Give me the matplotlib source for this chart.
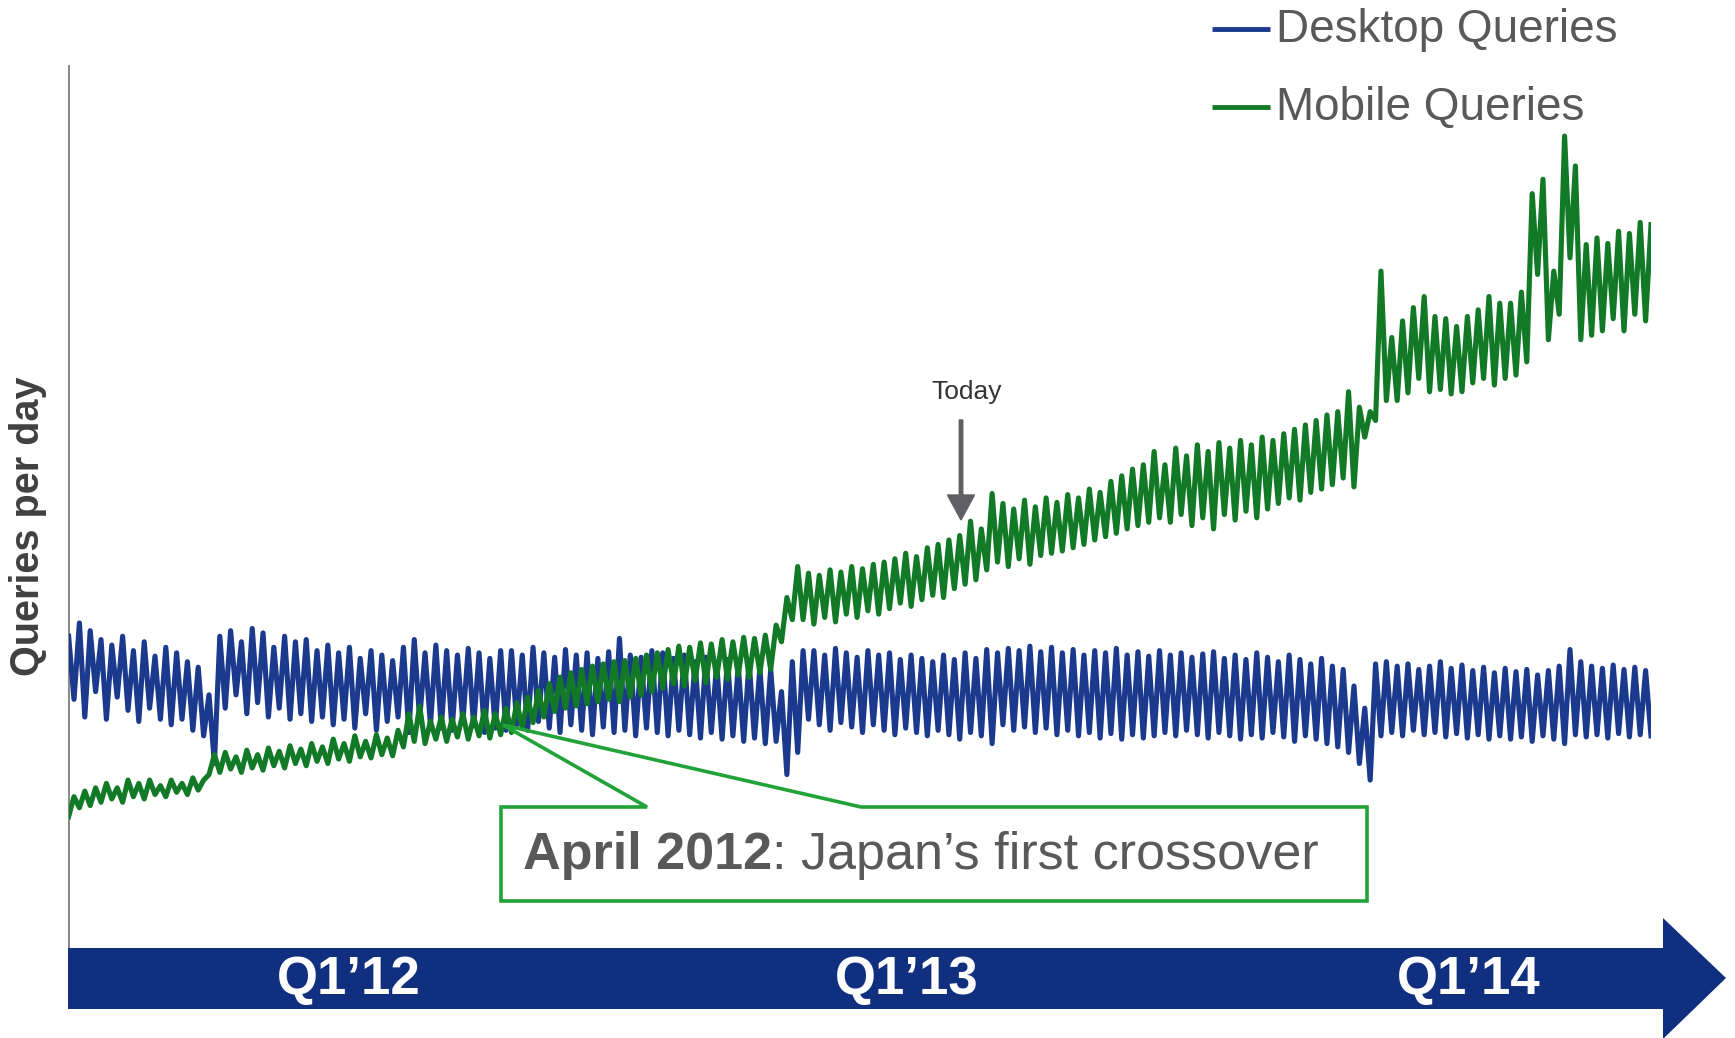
import numpy as np
import matplotlib
matplotlib.use("Agg")
import matplotlib.pyplot as plt
from matplotlib.patches import Polygon, FancyArrow

plt.rcParams['font.family'] = ['Liberation Sans', 'DejaVu Sans']

# ---------------- data (index of queries per day, weekly high / low) ----------------
weeks = np.arange(147)

desktop_high = [285, 297, 290, 282, 277, 285, 272, 280, 267, 275, 270, 262, 257,
                232,
                285, 290, 280, 292, 288, 275, 285, 280, 282, 272, 277,
                270, 275, 265, 272, 268, 263, 275, 282, 270, 277, 272, 268, 274, 270, 265, 272,
                272, 268, 275, 270, 266, 273, 268, 270, 265, 271, 283, 268, 266, 272, 270, 265,
                268, 262, 266, 260, 264, 258, 262, 256,
                255, 235, 262, 272,
                272, 268, 274, 270, 266, 272, 268, 270, 264, 268, 265, 262, 268, 264, 270, 265,
                273, 270, 274, 272, 276, 271, 275, 270, 273, 268, 272, 270, 274, 268, 271, 267,
                272, 268, 270, 266, 269, 271, 265, 268, 264, 270, 266, 262, 268, 264, 260, 265,
                258, 255,
                240, 220, 260,
                262, 258, 260, 255, 258, 262, 256, 259, 254, 257, 252, 256, 253, 255, 250, 254,
                258, 273, 262, 258, 256, 259, 255, 257, 254]

desktop_low = [228, 212, 235, 210, 230, 218, 208, 220, 210, 205, 210, 200, 195,
               170,
               220, 232, 215, 225, 212, 220, 210, 215, 208, 212, 205,
               210, 202, 215, 200, 208, 212, 198, 210, 205, 202, 200, 208, 204, 198, 202, 200,
               205, 200, 208, 202, 198, 205, 200, 196, 203, 198, 200, 195, 202, 198, 195, 200,
               196, 193, 198, 192, 195, 190, 193, 188,
               190, 160, 180, 210,
               205, 200, 207, 203, 198, 205, 200, 196, 202, 198, 195, 200, 196, 192, 198, 195,
               188, 205, 200, 203, 198, 202, 196, 200, 195, 198, 193, 197, 192, 196, 193, 195,
               198, 195, 200, 196, 193, 198, 195, 192, 196, 193, 198, 194, 190, 195, 192, 188,
               185, 180,
               170, 155, 195,
               198, 195, 200, 196, 198, 194, 197, 193, 196, 192, 195, 192, 194, 190, 195, 192,
               188, 196, 194, 196, 193, 197, 194, 196, 195]

mobile_low = [122, 130, 132, 135, 138, 135, 140, 138, 142, 140, 144, 142, 146,
              160,
              162, 165, 162, 166, 164, 168, 166, 170, 168, 172, 170, 174, 172, 176, 175, 178, 177,
              185, 190, 188, 192, 190, 194, 192, 195, 193, 196,
              198, 202, 207, 212, 217, 220, 222,
              224, 226, 228, 226, 230, 232, 235,
              238, 242, 240, 245, 243, 248, 246, 250, 248, 252,
              255, 280, 300,
              300, 296, 302, 298, 305, 302, 308, 305,
              310, 315, 312, 318, 322, 320, 328, 332,
              336, 345,
              352, 348, 355, 350, 358, 360, 362, 365, 368, 372,
              375, 378, 382, 385, 388,
              392, 388, 395, 385, 392, 382, 395, 390, 398, 392,
              400, 405, 410, 408, 415, 418, 422, 428, 420,
              465, 480,
              498, 498, 505, 518, 506, 508, 504, 506, 514, 518, 512, 518, 521,
              533, 612, 553, 576, 627, 553, 557, 561, 572, 561, 576, 570]

mobile_high = [140, 145, 148, 152, 148, 155, 152, 155, 150, 155, 152, 157, 155,
               178,
               180, 176, 182, 178, 184, 181, 186, 183, 188, 185, 192, 188, 195, 190, 196, 193, 200,
               215, 222, 208, 212, 210, 215, 212, 218, 215, 220,
               225, 230, 236, 242, 248, 252, 255,
               258, 260, 262, 263, 265, 268, 270,
               273, 276, 275, 279, 278, 282, 280, 284, 283, 286,
               295, 320, 348,
               342, 340, 345, 343, 348, 346, 350, 352,
               355, 360, 357, 365, 368, 372, 376, 389,
               382, 414,
               405, 400, 408, 402, 410, 406, 413, 410, 418, 415,
               425, 430, 436, 440, 452,
               440, 455, 448, 458, 452, 460, 455, 462, 458, 465,
               462, 468, 472, 476, 480, 485, 488, 506, 492,
               488, 615,
               555, 570, 582, 592, 574, 572, 565, 574, 580, 592, 586, 586, 596,
               685, 698, 615, 737, 710, 639, 645, 640, 651, 649, 659, 657]

series_labels = ["Desktop Queries", "Mobile Queries"]
quarter_labels = ["Q1\u201912", "Q1\u201913", "Q1\u201914"]
y_label = "Queries per day"
callout_bold = "April 2012"
callout_rest = ": Japan\u2019s first crossover"
today_label = "Today"

# ---------------- build interleaved series ----------------
t = np.empty(2 * len(weeks))
t[0::2] = weeks
t[1::2] = weeks + 0.5
desk = np.empty_like(t)
desk[0::2] = desktop_high
desk[1::2] = desktop_low
mob = np.empty_like(t)
mob[0::2] = mobile_low
mob[1::2] = mobile_high

BLUE = '#1b3a8e'
GREEN = '#127a26'
NAVY = '#10307f'
CALLOUT = '#22a33a'
GRAY_TXT = '#595959'

W, H = 1735, 1038
fig = plt.figure(figsize=(W / 100, H / 100), dpi=100)

ax = fig.add_axes([68.6 / W, 1 - 951.6 / H, (1651 - 68.6) / W, (951.6 - 66.4) / H])
ax.plot(t, desk, color=BLUE, lw=3.7, zorder=3)
ax.plot(t, mob, color=GREEN, lw=3.7, zorder=3)
ax.set_xlim(0, t[-1])
ax.set_ylim(0, 800)
for s in ['top', 'right', 'bottom']:
    ax.spines[s].set_visible(False)
ax.spines['left'].set_color('#8c8c8c')
ax.spines['left'].set_linewidth(1.5)
ax.set_xticks([])
ax.set_yticks([])
ax.patch.set_alpha(0)

# overlay in pixel coordinates
ov = fig.add_axes([0, 0, 1, 1])
ov.set_xlim(0, W)
ov.set_ylim(H, 0)
ov.axis('off')
ov.patch.set_alpha(0)

# bottom timeline arrow
band = Polygon([(68, 948), (1663, 948), (1663, 918), (1726, 978), (1663, 1039),
                (1663, 1009), (68, 1009)], closed=True, facecolor=NAVY, edgecolor='none')
ov.add_patch(band)
for lbl, x in zip(quarter_labels, [349, 907, 1469]):
    ov.text(x, 980, lbl, ha='center', va='center', color='white', fontsize=38,
            fontweight='bold')

# legend
for lbl, col, y in zip(series_labels, [BLUE, GREEN], [29, 107]):
    ov.plot([1212, 1270], [y, y], color=col, lw=3.5, solid_capstyle='butt')
    ov.text(1276, y + 1, lbl, ha='left', va='center', fontsize=33, color=GRAY_TXT)

# y label
ov.text(28, 526, y_label, rotation=90, ha='center', va='center', fontsize=28.5,
        fontweight='bold', color='#404040')

# today arrow
ov.text(967, 392, today_label, ha='center', va='center', fontsize=19, color='#333333')
ov.add_patch(FancyArrow(961, 420, 0, 100, width=3.5, head_width=27, head_length=25,
                        length_includes_head=True, color='#606064'))

# callout
call = Polygon([(501, 807), (647, 807), (503, 725), (861, 807), (1367, 807),
                (1367, 901), (501, 901)], closed=True, facecolor='none',
               edgecolor=CALLOUT, lw=2.6, joinstyle='miter')
ov.add_patch(call)
t1 = ov.text(523, 869, callout_bold, ha='left', va='baseline', fontsize=37.5,
             fontweight='bold', color=GRAY_TXT)
ov.annotate(callout_rest, xy=(1, 0), xycoords=t1, ha='left', va='bottom',
            fontsize=37.5, color=GRAY_TXT)

fig.savefig('out.png', dpi=100)
